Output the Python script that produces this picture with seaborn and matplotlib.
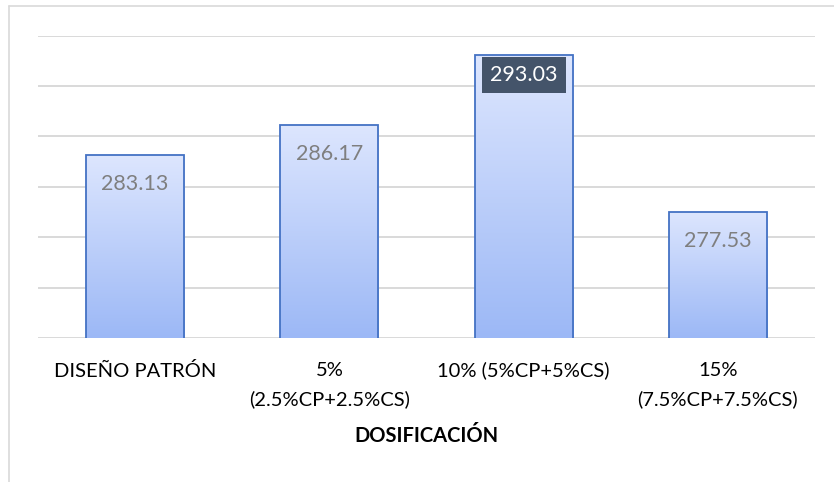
import numpy as np
import pandas as pd
import matplotlib
matplotlib.use("Agg")
import matplotlib.pyplot as plt
from matplotlib.colors import LinearSegmentedColormap
from matplotlib.lines import Line2D
import seaborn as sns

categories = ["DISEÑO PATRÓN", "5%\n(2.5%CP+2.5%CS)", "10% (5%CP+5%CS)", "15%\n(7.5%CP+7.5%CS)"]
values = [283.13, 286.17, 293.03, 277.53]
value_labels = ["283.13", "286.17", "293.03", "277.53"]
highlight = [False, False, True, False]
x_title = "DOSIFICACIÓN"

df = pd.DataFrame({"dosificacion": categories, "valor": values})

sns.set_theme(style="white")
plt.rcParams["font.family"] = ["Lato", "DejaVu Sans"]

W, H = 834, 482
fig = plt.figure(figsize=(W / 100, H / 100), dpi=100)
ax = fig.add_axes([38 / W, 1 - 338 / H, (815 - 38) / W, (338 - 35.5) / H])

sns.barplot(data=df, x="dosificacion", y="valor", ax=ax, width=0.505,
            color="#c0d0fa", edgecolor="#4472c4", linewidth=1.3, zorder=3)

ax.set_ylim(265, 295)
ax.set_xlim(-0.5, 3.5)
ax.set_yticks(np.arange(265, 296, 5))
ax.yaxis.grid(True, color="#d9d9d9", linewidth=1.4, zorder=0)
ax.set_axisbelow(True)
ax.tick_params(axis="y", left=False, labelleft=False)
ax.tick_params(axis="x", bottom=False, pad=11, labelsize=14.5, labelcolor="#000000")
for lbl in ax.get_xticklabels():
    lbl.set_linespacing(1.8)
    lbl.set_verticalalignment("top")
for s in ax.spines.values():
    s.set_visible(False)

ax.set_xlabel(x_title, fontsize=14.5, fontweight="bold", color="#000000", labelpad=13)
ax.set_ylabel("")

# vertical gradient fill clipped to each bar
grad = LinearSegmentedColormap.from_list("barfill", ["#9cb8f6", "#dde6fe"])
ramp = np.linspace(0, 1, 256).reshape(-1, 1)
ymin = ax.get_ylim()[0]
for p in ax.patches:
    x0, w, h = p.get_x(), p.get_width(), p.get_height()
    y0 = p.get_y()
    img = ax.imshow(ramp, cmap=grad, origin="lower", aspect="auto",
                    extent=(x0, x0 + w, max(y0, ymin), y0 + h), zorder=3.5)
    img.set_clip_path(p)
    p.set_facecolor("none")
    p.set_zorder(4)

# value labels at the inside end of each bar
for p, txt, hl in zip(ax.patches, value_labels, highlight):
    cx = p.get_x() + p.get_width() / 2
    top = p.get_y() + p.get_height()
    if hl:
        ax.annotate(txt, (cx, top), xytext=(0, -14), textcoords="offset points",
                    ha="center", va="center", fontsize=15.5, color="white", zorder=6,
                    bbox=dict(boxstyle="square,pad=0.38", fc="#44546a", ec="none"))
    else:
        ax.annotate(txt, (cx, top), xytext=(0, -21), textcoords="offset points",
                    ha="center", va="center", fontsize=15.5, color="#7f7f7f", zorder=6)

# chart area border (top and left edges)
fig.add_artist(Line2D([9 / W, 9 / W], [0, 1 - 6 / H], transform=fig.transFigure,
                      color="#d9d9d9", linewidth=1.2))
fig.add_artist(Line2D([9 / W, 1], [1 - 6 / H, 1 - 6 / H], transform=fig.transFigure,
                      color="#d9d9d9", linewidth=1.2))

fig.savefig("out.png", dpi=100, facecolor="white")
